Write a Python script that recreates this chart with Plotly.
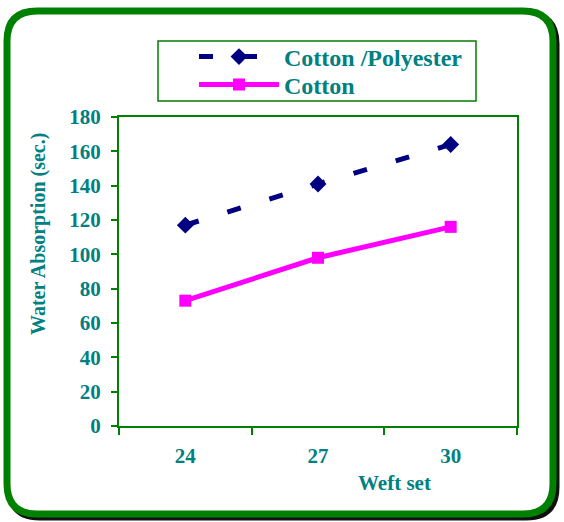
import plotly.graph_objects as go

weft_set = ["24", "27", "30"]
cotton_polyester = [117, 141, 164]
cotton = [73, 98, 116]
y_ticks = [0, 20, 40, 60, 80, 100, 120, 140, 160, 180]

W, H = 564, 522
L, R, T, B = 119, 517, 117, 426

def px(x):
    return (x - L) / (R - L)

def py(y):
    return (B - y) / (B - T)

TEAL = "#008080"
GREEN = "#008000"
FONT = "Liberation Serif"

fig = go.Figure()
fig.add_trace(go.Scatter(
    x=weft_set, y=cotton_polyester, name="Cotton /Polyester",
    mode="lines+markers", legend="legend",
    line=dict(color="#000080", width=5, dash="14px,30px"),
    marker=dict(symbol="diamond", size=13, color="#000080"),
))
fig.add_trace(go.Scatter(
    x=weft_set, y=cotton, name="Cotton",
    mode="lines+markers", legend="legend2",
    line=dict(color="#FF00FF", width=5),
    marker=dict(symbol="square", size=12, color="#FF00FF"),
))

def rrect(x0, y0, x1, y1, r):
    return (f"M {px(x0 + r)} {py(y0)} L {px(x1 - r)} {py(y0)} "
            f"Q {px(x1)} {py(y0)} {px(x1)} {py(y0 + r)} "
            f"L {px(x1)} {py(y1 - r)} Q {px(x1)} {py(y1)} {px(x1 - r)} {py(y1)} "
            f"L {px(x0 + r)} {py(y1)} Q {px(x0)} {py(y1)} {px(x0)} {py(y1 - r)} "
            f"L {px(x0)} {py(y0 + r)} Q {px(x0)} {py(y0)} {px(x0 + r)} {py(y0)} Z")

shapes = [
    dict(type="path", xref="paper", yref="paper", layer="below",
         path=rrect(10, 14, 556, 517, 30), line=dict(color="#111111", width=7)),
    dict(type="path", xref="paper", yref="paper", layer="below",
         path=rrect(7, 11, 553, 514, 30), line=dict(color=GREEN, width=7),
         fillcolor="white"),
    dict(type="rect", xref="paper", yref="paper", layer="below",
         x0=px(158), x1=px(476), y0=py(41), y1=py(101),
         line=dict(color=GREEN, width=1.5)),
]

legend_common = dict(xanchor="left", yanchor="middle",
                     bgcolor="rgba(0,0,0,0)", borderwidth=0,
                     font=dict(family=FONT, size=24, color=TEAL, weight="bold"),
                     itemwidth=80, tracegroupgap=0)

fig.update_layout(
    width=W, height=H,
    margin=dict(l=L, r=W - R, t=T, b=H - B),
    paper_bgcolor="white", plot_bgcolor="white",
    font=dict(family=FONT, color=TEAL, size=21, weight="bold"),
    showlegend=True,
    legend=dict(x=px(194), y=py(57), **legend_common),
    legend2=dict(x=px(194), y=py(85), **legend_common),
    shapes=shapes,
    annotations=[
        dict(text="Water Absorption (sec.)", xref="paper", yref="paper",
             x=px(38), y=py(234), xanchor="center", yanchor="middle",
             textangle=-90, showarrow=False,
             font=dict(family=FONT, size=20, color=TEAL, weight="bold")),
        dict(text="Weft set", xref="paper", yref="paper",
             x=px(394), y=py(483), xanchor="center", yanchor="middle",
             showarrow=False,
             font=dict(family=FONT, size=21, color=TEAL, weight="bold")),
    ],
)
fig.update_xaxes(
    type="category", range=[-0.5, 2.5], tickson="boundaries",
    ticks="outside", ticklen=7,
    tickcolor=GREEN, tickwidth=1.5, showline=True, linecolor=GREEN,
    linewidth=2, mirror=True, showgrid=False, zeroline=False,
    ticklabelstandoff=10,
)
fig.update_yaxes(
    range=[0, 180], tickvals=y_ticks, ticks="outside", ticklen=6,
    tickcolor=GREEN, tickwidth=1.5, showline=True, linecolor=GREEN,
    linewidth=2, mirror=True, showgrid=False, zeroline=False,
    ticklabelstandoff=6,
)

fig.write_html("out.html",
               config={"displayModeBar": False},
               post_script="document.body.style.margin='0';document.body.style.overflow='hidden';")
